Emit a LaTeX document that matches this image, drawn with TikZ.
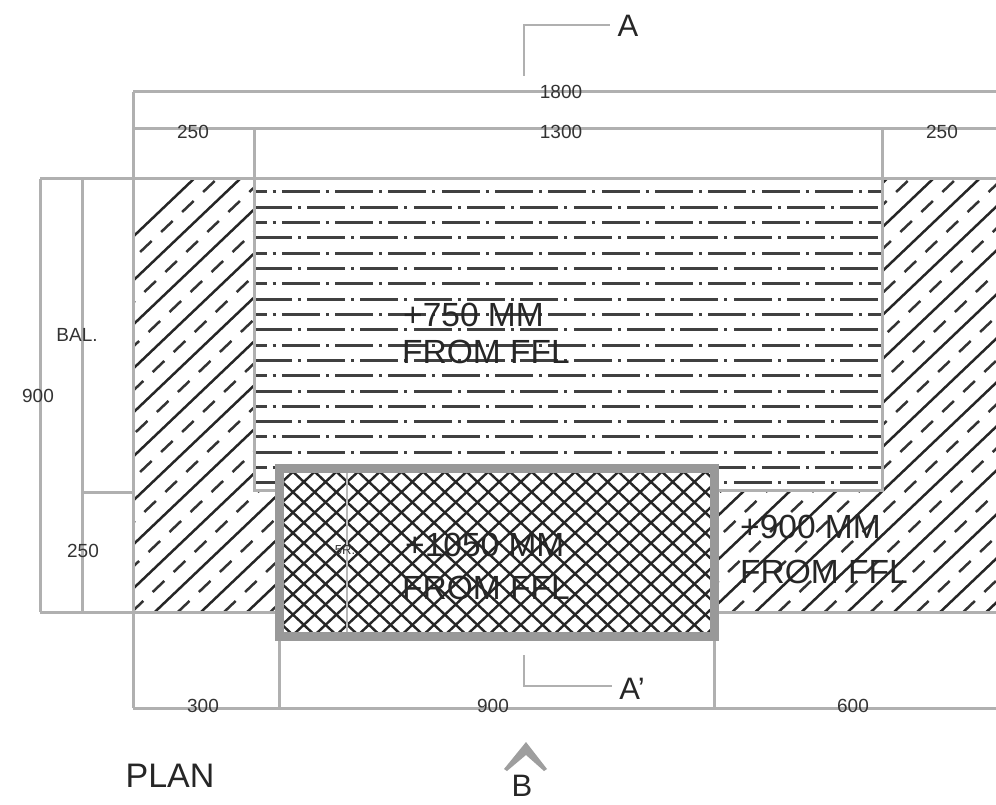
\documentclass[tikz,border=0pt]{standalone}
\usepackage{fontspec}
\setmainfont{Liberation Sans}
\tikzset{
  dimline/.style={draw=black!31,line width=3pt},
  solidhatch/.style={draw=black!85,line width=2.5pt},
  dashhatch/.style={draw=black!80,line width=2.5pt,dash pattern=on 16pt off 13pt},
  crosshatch/.style={draw=black!85,line width=2.4pt},
  rowa/.style={draw=black!75,line width=3pt,dash pattern=on 38pt off 6pt on 3pt off 6.33pt},
  small/.style={inner sep=0pt,text=black!80,font=\fontsize{19}{21}\selectfont},
  big/.style={inner sep=0pt,anchor=west,text=black!85,font=\fontsize{33.5}{36}\selectfont},
  sectmark/.style={inner sep=0pt,text=black!85,font=\fontsize{31}{33}\selectfont},
}
\begin{document}
\begin{tikzpicture}[x=1pt,y=-1pt]
\useasboundingbox (0,0) rectangle (996,805);
% slab hatch
\begin{scope}
  \clip (133,179) -- (254,179) -- (254,490) -- (882,490) -- (882,179) -- (996,179) -- (996,612) -- (133,612) -- cycle;
  \foreach \k in {0,...,30}{
    \pgfmathsetmacro{\xa}{-261+46.2*\k}
    \draw[solidhatch] (\xa,612) -- ({\xa+454.7},179);
    \draw[dashhatch] ({\xa+23.1},612) -- ({\xa+23.1+454.7},179);
  }
\end{scope}
% raised slab hatch
\begin{scope}
  \clip (254,179) rectangle (882,490);
  \foreach \k in {0,1,...,9}{
    \pgfmathsetmacro{\ya}{192+30.6*\k}
    \pgfmathsetmacro{\yb}{207.4+30.6*\k}
    \draw[rowa] (228.5,\ya) -- (900,\ya);
    \draw[rowa] (200.5,\yb) -- (900,\yb);
  }
\end{scope}
% outline
\draw[dimline] (133,92) -- (996,92);
\draw[dimline] (133,129) -- (996,129);
\draw[dimline] (133,92) -- (133,708);
\draw[dimline] (254,129) -- (254,490) -- (882,490) -- (882,129);
\draw[dimline] (40,179) -- (996,179);
\draw[dimline] (40,612) -- (996,612);
\draw[dimline] (40,179) -- (40,612);
\draw[dimline] (82,179) -- (82,612);
\draw[dimline] (82,492) -- (133,492);
\draw[dimline] (133,708) -- (996,708);
\draw[dimline] (279,636) -- (279,708);
\draw[dimline] (714,636) -- (714,708);
% top block
\fill[white] (279,468) rectangle (714,636);
\begin{scope}
  \clip (279,468) rectangle (714,636);
  \foreach \k in {-12,...,40}{
    \pgfmathsetmacro{\xc}{244.3+21.7*\k}
    \pgfmathsetmacro{\xd}{242.45+21.7*\k}
    \draw[crosshatch] (\xc,640) -- ({\xc+186},465);
    \draw[crosshatch] (\xd,465) -- ({\xd+186},640);
  }
\end{scope}
\draw[black!28,line width=2pt] (347,470) -- (347,634);
\draw[draw=black!40,line width=9pt] (279,468) rectangle (714,636);
% section marks
\coordinate (ab) at (524,76);
\coordinate (ac) at (524,25);
\coordinate (ae) at (610,25);
\coordinate (bb) at (524,655);
\coordinate (bc) at (524,686);
\coordinate (be) at (612,686);
\draw[dimline,line width=2.6pt] (ab) -- (ac) -- (ae);
\draw[dimline,line width=2.6pt] (bb) -- (bc) -- (be);
\fill[black!38] (526,742) -- (547,769) -- (544,771) -- (526,755) -- (507,771) -- (504,769) -- cycle;
% labels
\node[small] (d1800) at (561,92) {1800};
\node[small] (d1300) at (561,132) {1300};
\node[small] (d250a) at (193,132) {250};
\node[small] (d250b) at (942,132) {250};
\node[small] (bal) at (77,335) {BAL.};
\node[small] (d900a) at (38,396) {900};
\node[small] (d250c) at (83,551) {250};
\node[small] (d300) at (203,706) {300};
\node[small] (d900b) at (493,706) {900};
\node[small] (d600) at (853,706) {600};
\node[small,font=\fontsize{13}{15}\selectfont] (d5r) at (345,550) {5R.};
\node[big] (t1) at (403,315) {+750 MM};
\node[big] (t2) at (402,352) {FROM FFL};
\node[big] (t3) at (405,545) {+1050 MM};
\node[big] (t4) at (402,588) {FROM FFL};
\node[big] (t5) at (740,527) {+900 MM};
\node[big] (t6) at (740,572) {FROM FFL};
\node[sectmark] (la) at (628,26) {A};
\node[sectmark] (lap) at (632,689) {A'};
\node[sectmark] (lb) at (522,786) {B};
\node[sectmark,font=\fontsize{34}{36}\selectfont] (plan) at (170,776) {PLAN};
\end{tikzpicture}
\end{document}
